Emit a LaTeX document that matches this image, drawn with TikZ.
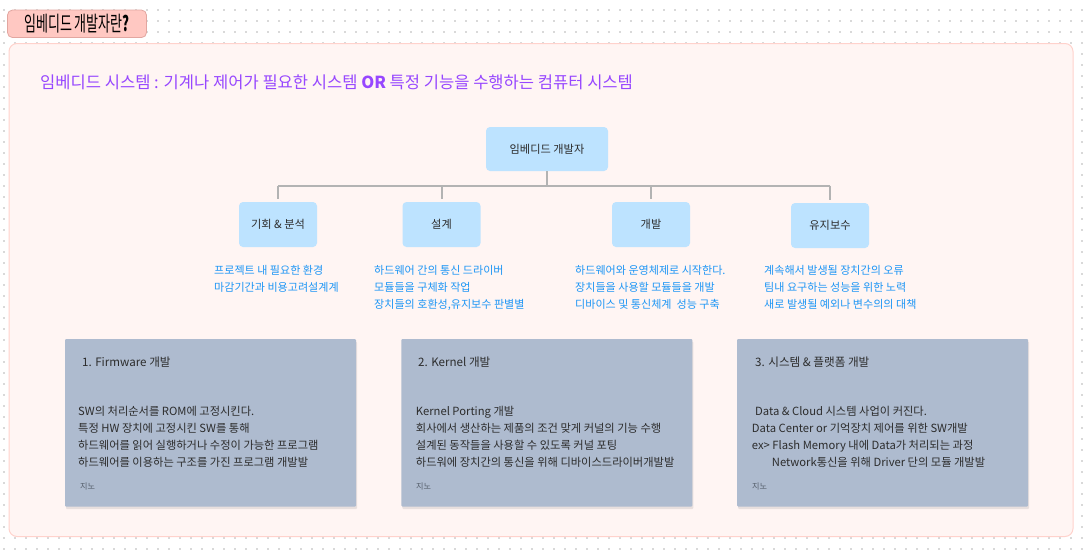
\documentclass[tikz,border=0pt]{standalone}
\usepackage{fontspec}
\setmainfont{Noto Sans CJK KR}
\usetikzlibrary{shadows}
\definecolor{dotc}{HTML}{D9D9D9}
\definecolor{pillfill}{HTML}{FFC8C2}
\definecolor{pilldraw}{HTML}{E2A6A0}
\definecolor{contfill}{HTML}{FFF5F3}
\definecolor{contdraw}{HTML}{FFD2CC}
\definecolor{purp}{HTML}{9747FF}
\definecolor{nodefill}{HTML}{BDE3FF}
\definecolor{conncol}{HTML}{B3B3B3}
\definecolor{bluetxt}{HTML}{1E96F5}
\definecolor{cardfill}{HTML}{AEBBCF}
\definecolor{darktxt}{HTML}{2C2C2C}
\definecolor{graytxt}{HTML}{555E6B}
\tikzset{
  bluebox/.style={fill=nodefill, draw=none, rounded corners=4pt, inner sep=0pt,
    font=\fontsize{11.2}{13}\selectfont, text=darktxt},
  conn/.style={draw=conncol, line width=2pt},
  card/.style={fill=cardfill, draw=none, rounded corners=1pt, inner sep=0pt,
    minimum height=167.5pt, minimum width=291pt,
    drop shadow={opacity=0.18, shadow xshift=1pt, shadow yshift=-2.5pt}},
  ln/.style={anchor=base west, inner sep=0pt},
  bluetext/.style={ln, text=bluetxt, font=\fontsize{11.05}{13}\selectfont},
  cardtext/.style={ln, text=darktxt, font=\fontsize{11.25}{13}\selectfont},
  cardtitle/.style={ln, text=darktxt, font=\fontsize{11.6}{13}\selectfont},
  sig/.style={ln, text=graytxt, font=\fontsize{8.1}{9}\selectfont},
}
\begin{document}
\begin{tikzpicture}[x=1pt,y=-1pt]
\useasboundingbox (0,0) rectangle (1084,549);
\fill[white] (0,0) rectangle (1084,549);
% dotted background
\foreach \r in {0,...,49}{
  \draw[dotc, line width=1.1pt, dash pattern=on 1.1pt off 9.9pt] (3.4,{10+11*\r}) -- (1084,{10+11*\r});
}
% container
\node[fill=contfill, draw=contdraw, line width=1pt, rounded corners=8pt,
  minimum width=1064pt, minimum height=493pt, inner sep=0pt] (cont) at (541,290) {};
% title pill
\node[fill=pillfill, draw=pilldraw, line width=0.8pt, rounded corners=5pt,
  minimum width=139pt, minimum height=27.5pt, inner sep=0pt] (pill) at (77,23.8)
  {\scalebox{0.62}[1]{\fontsize{21}{21}\selectfont 임베디드 개발자란\textbf{?}}};
% subtitle
\node[ln, text=purp, font=\fontsize{16.55}{18}\selectfont] (sub) at (40,88.6)
  {임베디드 시스템 : 기계나 제어가 필요한 시스템 \textbf{OR} 특정 기능을 수행하는 컴퓨터 시스템};
% tree nodes
\node[bluebox, minimum width=122pt, minimum height=44pt] (main) at (547,149) {임베디드 개발자};
\node[bluebox, minimum width=78pt, minimum height=45pt] (plan) at (278,224.5) {기회 \& 분석};
\node[bluebox, minimum width=78pt, minimum height=45pt] (design) at (441.5,224.5) {설계};
\node[bluebox, minimum width=78pt, minimum height=45pt] (dev) at (651,224.5) {개발};
\node[bluebox, minimum width=78pt, minimum height=45pt] (maint) at (830,225.5) {유지보수};
% connectors
\coordinate (bus) at (547,185.5);
\draw[conn] (main.south) -- (bus);
\draw[conn] (plan.north |- bus) -- (maint.north |- bus);
\foreach \n in {plan,design,dev,maint}{
  \draw[conn, shorten >=3pt] (\n.north |- bus) -- (\n.north);
}
% blue descriptions
\node[bluetext] (p1) at (214,274.8) {프로젝트 내 필요한 환경};
\node[bluetext] (p2) at (214,291.4) {마감기간과 비용고려설계계};
\node[bluetext] (d1) at (374,274.8) {하드웨어 간의 통신 드라이버};
\node[bluetext] (d2) at (374,291.4) {모듈들을 구체화 작업};
\node[bluetext] (d3) at (374,308.1) {장치들의 호환성,유지보수 판별별};
\node[bluetext] (v1) at (575,274.8) {하드웨어와 운영체제로 시작한다.};
\node[bluetext] (v2) at (575,291.4) {장치들을 사용할 모듈들을 개발};
\node[bluetext] (v3) at (575,308.1) {디바이스 및 통신체계~ 성능 구축};
\node[bluetext] (m1) at (764,274.8) {계속해서 발생될 장치간의 오류};
\node[bluetext] (m2) at (764,291.4) {팀내 요구하는 성능을 위한 노력};
\node[bluetext] (m3) at (764,308.1) {새로 발생될 예외나 변수의의 대책};
% cards
\node[card] (c1) at (210.5,422.75) {};
\node[card] (c2) at (546.9,422.75) {};
\node[card] (c3) at (882.5,422.75) {};
% card 1
\node[cardtitle] (c1t) at (82,366) {1. Firmware 개발};
\node[cardtext] (c1a) at (78,415.9) {SW의 처리순서를 ROM에 고정시킨다.};
\node[cardtext] (c1b) at (78,432.9) {특정 HW 장치에 고정시킨 SW를 통해};
\node[cardtext] (c1c) at (78,449.9) {하드웨어를 읽어 실행하거나 수정이 가능한 프로그램};
\node[cardtext] (c1d) at (78,466.9) {하드웨어를 이용하는 구조를 가진 프로그램 개발발};
\node[sig] (c1s) at (80,489.8) {지노};
% card 2
\node[cardtitle] (c2t) at (418,366) {2. Kernel 개발};
\node[cardtext] (c2a) at (415.7,415.9) {Kernel Porting 개발};
\node[cardtext] (c2b) at (415.7,432.9) {회사에서 생산하는 제품의 조건 맞게 커널의 기능 수행};
\node[cardtext] (c2c) at (415.7,449.9) {설계된 동작들을 사용할 수 있도록 커널 포팅};
\node[cardtext] (c2d) at (415.7,466.9) {하드워에 장치간의 통신을 위해 디바이스드라이버개발발};
\node[sig] (c2s) at (416,489.8) {지노};
% card 3
\node[cardtitle] (c3t) at (755,366) {3. 시스템 \& 플랫폼 개발};
\node[cardtext] (c3a) at (755,415.9) {Data \& Cloud 시스템 사업이 커진다.};
\node[cardtext] (c3b) at (751.7,432.9) {Data Center or 기억장치 제어를 위한 SW개발};
\node[cardtext] (c3c) at (751.7,449.9) {ex> Flash Memory 내에 Data가 처리되는 과정};
\node[cardtext] (c3d) at (771.7,466.9) {Network통신을 위해 Driver 단의 모듈 개발발};
\node[sig] (c3s) at (752,489.8) {지노};
\end{tikzpicture}
\end{document}
